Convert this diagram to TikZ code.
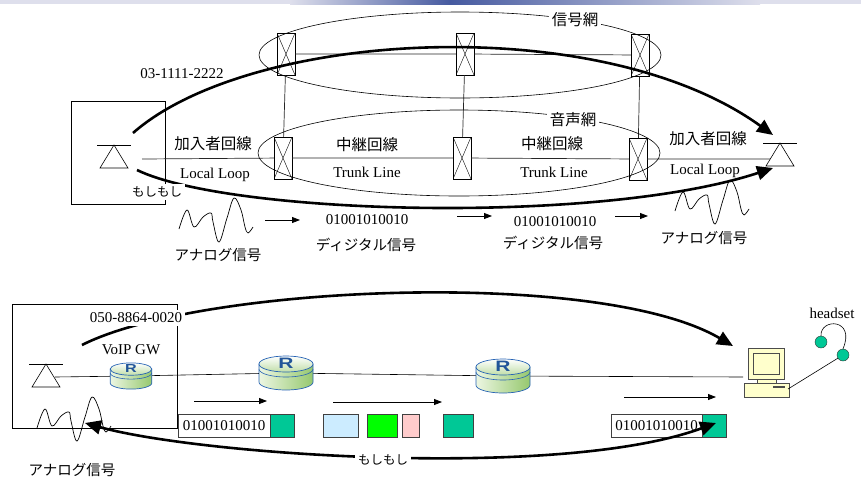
\documentclass[tikz,border=0pt]{standalone}
\usepackage{fontspec}
\setmainfont{Liberation Serif}
\newfontfamily\jpfont{Noto Sans CJK JP}
\newfontfamily\iconfont{Liberation Sans}
\usetikzlibrary{arrows.meta}
\definecolor{pktteal}{RGB}{0,200,150}
\definecolor{pktblue}{RGB}{204,236,255}
\definecolor{pktgreen}{RGB}{0,255,0}
\definecolor{pktpink}{RGB}{255,204,204}
\definecolor{pcyellow}{RGB}{255,255,204}
\definecolor{routerblue}{RGB}{40,100,180}
\definecolor{routerpale}{RGB}{236,246,226}
\definecolor{routergreen}{RGB}{150,200,110}
\definecolor{barblue}{RGB}{70,90,160}
\definecolor{barpale}{RGB}{222,223,236}

\tikzset{
  % telephone: bar with a triangle hanging under it, origin at the apex
  phone/.pic={
    \draw[line width=0.6pt] (-17,0) -- (17,0);
    \draw[line width=0.6pt] (0,0) -- (-14,23) -- (14,23) -- cycle;
  },
  % analog voice waveform, origin at the top left
  wave/.pic={
    \draw[line width=0.7pt] plot[smooth, tension=0.6] coordinates
      {(0,31) (8,12) (15,29) (24,19) (32,15) (34,24) (40,44) (48,20) (55,0) (62,12) (66,29) (69,35) (74,29)};
  },
  % router disc with the R on top
  router/.pic={
    \path[left color=routerpale, right color=routergreen, draw=routerblue, line width=0.7pt]
      (-27,-9) -- plot[domain=180:0, samples=25] ({27*cos(\x)},{9+8*sin(\x)}) -- (27,-9) -- cycle;
    \path[top color=white, bottom color=routergreen!60, draw=routerblue, line width=0.7pt]
      (0,-9) ellipse[x radius=27, y radius=8];
    \draw[routerblue, line width=0.6pt] plot[domain=180:0, samples=25] ({27*cos(\x)},{-4+8*sin(\x)});
    \node[transform shape, yscale=0.72, inner sep=0pt, text=routerblue!85!black,
          font=\iconfont\bfseries\fontsize{21}{21}\selectfont] at (0,-10) {R};
  },
  % desktop pc, origin at the middle of the monitor
  pc/.pic={
    \filldraw[fill=pcyellow, draw=black!70] (-18,-16) rectangle (18,15);
    \draw[black!70] (-13,-11) rectangle (13,10);
    \filldraw[fill=pcyellow, draw=black!70] (-9,15) rectangle (10,19);
    \filldraw[fill=pcyellow, draw=black!70] (-22,19) rectangle (23,33);
    \fill[black!70] (7,21.5) rectangle (19,23.5);
  }
}

\begin{document}
\begin{tikzpicture}[
    x=1pt, y=-1pt,
    switchbox/.style={draw, fill=white, minimum width=18pt, minimum height=42pt, inner sep=0pt,
      path picture={\draw (path picture bounding box.north west) -- (path picture bounding box.south east)
                          (path picture bounding box.north east) -- (path picture bounding box.south west);}},
    link/.style={line width=0.7pt, black!85},
    call/.style={line width=2.6pt, -{Triangle[length=16pt, width=14pt]}},
    flow/.style={line width=0.8pt, -{Triangle[length=8pt, width=6pt]}},
    jp/.style={font=\jpfont\fontsize{15.5}{18}\selectfont},
    jpk/.style={font=\jpfont\fontsize{14.5}{17}\selectfont},
    jps/.style={font=\jpfont\fontsize{12.5}{15}\selectfont},
    lat/.style={font=\fontsize{15}{17}\selectfont},
    mask/.style={fill=white, inner sep=3pt},
    pkt/.style={draw=black!75, minimum height=23pt, inner sep=0pt, anchor=west},
    ear/.style={circle, draw=black!80, fill=pktteal, minimum size=12pt, inner sep=0pt}]

    \useasboundingbox (0,0) rectangle (861,480);

    % ----- slide header strip
    \fill[barpale] (0,0) rectangle (861,4);
    \shade[left color=barpale, right color=barblue] (290,0) rectangle (450,4);
    \shade[left color=barblue, right color=barpale] (450,0) rectangle (760,4);

    % ===== telephone network =====
    \draw[line width=0.6pt] (71,101) rectangle (165,204);
    \pic at (114,145) {phone};
    \pic at (780,143) {phone};
    \coordinate (ltel) at (142,159);
    \coordinate (rtel) at (770,159);

    % exchanges: signalling row and voice row
    \node[switchbox] (st1) at (286,54) {};
    \node[switchbox] (st2) at (465,54) {};
    \node[switchbox] (st3) at (640,55) {};
    \node[switchbox] (sb1) at (283,158) {};
    \node[switchbox] (sb2) at (462,158) {};
    \node[switchbox] (sb3) at (638,159) {};

    \draw[link] (st1) -- (st2) -- (st3);
    \draw[link] (ltel) -- (sb1) -- (sb2) -- (sb3) -- (rtel);
    \draw[link] (st1) -- (sb1);
    \draw[link] (st2) -- (sb2);
    \draw[link] (st3) -- (sb3);

    \draw[line width=0.6pt] (460,55) ellipse[x radius=201, y radius=43];
    \draw[line width=0.6pt] (459,153) ellipse[x radius=201, y radius=43];

    \node[jp]  at (213,144) {加入者回線};
    \node[lat] at (215,175) {Local Loop};
    \node[jp]  at (367,145) {中継回線};
    \node[lat] at (367,172) {Trunk Line};
    \node[jp]  at (552,144) {中継回線};
    \node[lat] at (554,172) {Trunk Line};
    \node[jp]  at (708,139) {加入者回線};
    \node[lat] at (705,171) {Local Loop};
    \node[lat] at (182,74) {03-1111-2222};

    % call set-up and voice path
    \coordinate (dialA) at (133,133);
    \coordinate (dialB) at (773,135);
    \coordinate (talkA) at (137,170);
    \coordinate (talkB) at (773,168);
    \draw[call] (dialA) .. controls (250,30) and (600,10) .. (dialB);
    \draw[call] (talkA) .. controls (230,215) and (600,225) .. (talkB);

    \node[jp, mask] at (575,20) {信号網};
    \node[jp, mask] at (573,120) {音声網};
    \node[jps, mask] at (157,192) {もしもし};

    % analog -> digital -> analog
    \pic at (179,198) {wave};
    \pic at (675,180) {wave};
    \draw[flow] (265,220) -- (300,220);
    \draw[flow] (457,216) -- (492,216);
    \draw[flow] (615,216) -- (648,216);
    \node[lat] at (367,220) {01001010010};
    \node[jpk] at (366,245) {ディジタル信号};
    \node[lat] at (555,222) {01001010010};
    \node[jpk] at (553,243) {ディジタル信号};
    \node[jpk] at (218,255) {アナログ信号};
    \node[jpk] at (704,238) {アナログ信号};

    % ===== IP telephony =====
    \draw[line width=0.6pt] (12,304) rectangle (177,428);
    \pic at (46,364) {phone};
    \coordinate (btel) at (55,377);
    \coordinate (gw) at (131,376);
    \coordinate (rt1) at (286,373);
    \coordinate (rt2) at (503,376);
    \coordinate (pcin) at (743,377);
    \draw[line width=0.6pt] (btel) -- (gw) -- (rt1) -- (rt2) -- (pcin);

    \pic[scale=0.77] at (gw) {router};
    \pic at (rt1) {router};
    \pic at (rt2) {router};
    \node[lat] at (131,350) {VoIP GW};

    \pic at (766,364) {pc};
    \coordinate (pcjack) at (788,389);
    \node[ear] (earL) at (821,342) {};
    \node[ear] (earR) at (843,355) {};
    \draw[line width=0.6pt] (earL.north) .. controls (820,318) and (856,318) .. (earR.north);
    \draw[line width=0.6pt] (earR) -- (pcjack);
    \node[lat] at (832,313) {headset};

    % packets on the way
    \draw[flow] (194,401) -- (267,401);
    \draw[flow] (333,402) -- (442,402);
    \draw[flow] (624,397) -- (716,397);
    \node[pkt, lat, fill=white, minimum width=92pt] (pk1) at (178,426) {01001010010};
    \node[pkt, fill=pktteal, minimum width=24pt] (pk1v) at (pk1.east) {};
    \node[pkt, fill=pktblue, minimum width=35pt] (pk2) at (323,426) {};
    \node[pkt, fill=pktgreen, minimum width=30pt] (pk3) at (367,426) {};
    \node[pkt, fill=pktpink, minimum width=17pt] (pk4) at (402,426) {};
    \node[pkt, fill=pktteal, minimum width=30pt] (pk5) at (443,426) {};
    \node[pkt, lat, fill=white, minimum width=91pt] (pk6) at (611,426) {01001010010};
    \node[pkt, fill=pktteal, minimum width=24pt] (pk6v) at (pk6.east) {};

    \pic at (37,397) {wave};

    % call set-up and voice, both ways
    \coordinate (voipA) at (82,345);
    \coordinate (voipB) at (733,346);
    \coordinate (hearA) at (85,423);
    \coordinate (hearB) at (716,423);
    \draw[call] (voipA) .. controls (200,285) and (600,268) .. (voipB);
    \draw[call, {Triangle[length=16pt, width=14pt]}-{Triangle[length=16pt, width=14pt]}]
        (hearA) .. controls (200,455) and (560,480) .. (hearB);

    \node[lat, mask] at (136,318) {050-8864-0020};
    \node[jps, mask] at (383,460) {もしもし};
    \node[jpk] at (72,470) {アナログ信号};
\end{tikzpicture}
\end{document}
